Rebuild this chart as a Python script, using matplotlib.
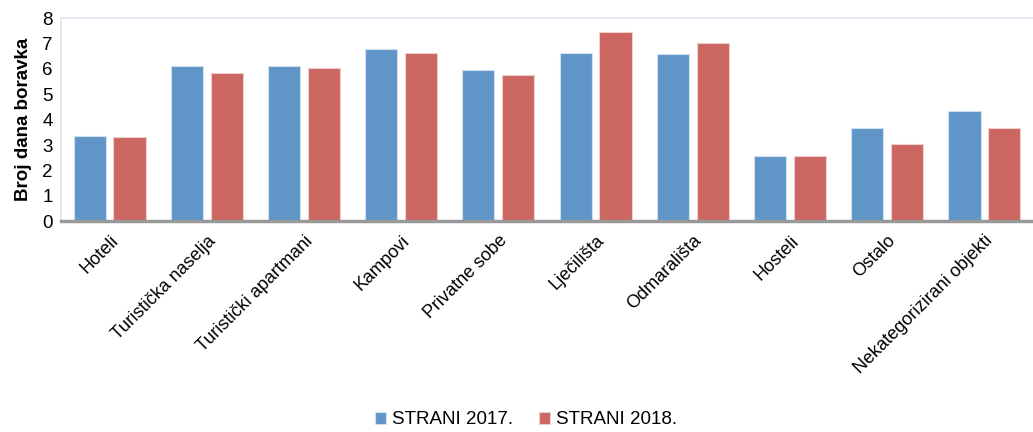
import numpy as np
import matplotlib.pyplot as plt

plt.rcParams['font.family'] = ['Liberation Sans', 'DejaVu Sans']

# Data
categories = ['Hoteli', 'Turistička naselja', 'Turistički apartmani', 'Kampovi',
              'Privatne sobe', 'Lječilišta', 'Odmarališta', 'Hosteli', 'Ostalo',
              'Nekategorizirani objekti']
strani_2017 = [3.37, 6.13, 6.13, 6.80, 5.97, 6.64, 6.57, 2.55, 3.66, 4.33]
strani_2018 = [3.31, 5.84, 6.05, 6.64, 5.75, 7.47, 7.02, 2.55, 3.06, 3.66]
series_labels = ['STRANI 2017.', 'STRANI 2018.']

blue = '#5f96c7'
red = '#cb6660'

fig = plt.figure(figsize=(10.33, 4.32), dpi=100)
ax = fig.add_axes([0.059, 0.488, 0.941, 0.47])

x = np.arange(len(categories))
w = 0.33
ax.bar(x - 0.205, strani_2017, w, color=blue, edgecolor='#cfe0f0', linewidth=0.8,
       label=series_labels[0])
ax.bar(x + 0.205, strani_2018, w, color=red, edgecolor='#f0cccc', linewidth=0.8,
       label=series_labels[1])

ax.set_xlim(-0.5, len(categories) - 0.5)
ax.set_ylim(0, 8)
ax.set_yticks(range(0, 9))
ax.tick_params(axis='y', length=0, labelsize=13.5, pad=6)
ax.tick_params(axis='x', length=0, labelsize=13, pad=8)
ax.set_xticks(x)
ax.set_xticklabels(categories, rotation=45, ha='right', rotation_mode='anchor')
for lbl in ax.get_xticklabels():
    lbl.set_x(lbl.get_position()[0])
ax.set_ylabel('Broj dana boravka', fontsize=13.5, fontweight='bold', labelpad=7)

for side in ['top', 'left', 'right']:
    ax.spines[side].set_color('#e8e0f0')
    ax.spines[side].set_linewidth(1.2)
ax.spines['right'].set_visible(False)
ax.spines['bottom'].set_color('#999999')
ax.spines['bottom'].set_linewidth(2.5)

fig.legend(loc='center', bbox_to_anchor=(0.509, 0.028), ncol=2, frameon=False,
           fontsize=13.5, handlelength=0.6, handleheight=0.6, handletextpad=0.3,
           columnspacing=1.4)

fig.savefig('out.png', dpi=100)
